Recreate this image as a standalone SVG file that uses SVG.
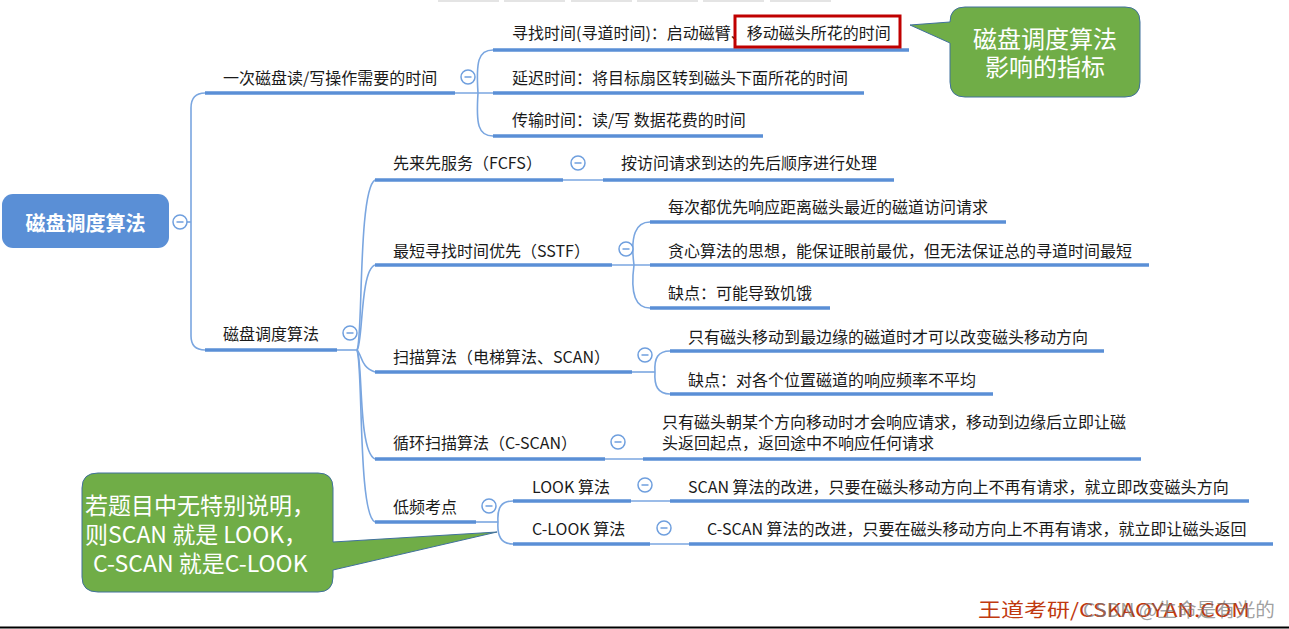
<svg xmlns="http://www.w3.org/2000/svg" width="1289" height="629" viewBox="0 0 1289 629">
<style>
.t{font-family:"Noto Sans CJK SC","Liberation Sans",sans-serif;font-size:16px;fill:#1a1a1a}
.ul{stroke:#5a8fd6;stroke-width:3.5;stroke-linecap:butt;fill:none}
.cn{stroke:#7aa6e0;stroke-width:1.6;fill:none}
.col circle{fill:#fff;stroke:#6f9fde;stroke-width:1.5}
.col line{stroke:#6f9fde;stroke-width:1.5}
.call{fill:#70ad47;stroke:#41719c;stroke-width:1}
.ct{font-family:"Noto Sans CJK SC","Liberation Sans",sans-serif;fill:#fff}
</style>
<defs>
<g id="minus" class="col"><circle cx="0" cy="0" r="7"/><line x1="-3.5" y1="0" x2="3.5" y2="0"/></g>
</defs>
<rect width="1289" height="629" fill="#fff"/>
<g id="toolbar" fill="#e4e4e4">
<rect x="438" y="0" width="61" height="2"/><rect x="504" y="0" width="61" height="2"/><rect x="571" y="0" width="61" height="2"/><rect x="637" y="0" width="61" height="2"/><rect x="703" y="0" width="61" height="2"/><rect x="770" y="0" width="61" height="2"/>
</g>
<g id="connectors">
<path class="cn" d="M186,222 H191"/>
<path class="cn" d="M205,93 Q191,93 191,108 V336 Q191,350 205,350"/>
<path class="cn" d="M455,93 H493"/>
<path class="cn" d="M478,93 C476,62 478,50 493,50"/>
<path class="cn" d="M478,93 C476,124 478,136 493,136"/>
<path class="cn" d="M337,350 H358"/>
<path class="cn" d="M357,350 C363,340 358,190 375,180"/>
<path class="cn" d="M357,350 C363,345 360,270 375,265"/>
<path class="cn" d="M357,350 C362,355 361,368 375,372"/>
<path class="cn" d="M357,350 C363,360 358,452 375,459"/>
<path class="cn" d="M357,350 C363,365 358,515 375,522"/>
<path class="cn" d="M563,180 H603"/>
<path class="cn" d="M612,265 H650"/>
<path class="cn" d="M634,265 C630,235 636,222 650,222"/>
<path class="cn" d="M634,265 C630,295 636,308 650,308"/>
<path class="cn" d="M632,372 H655"/>
<path class="cn" d="M655,372 C654,358 658,351 670,351"/>
<path class="cn" d="M655,372 C654,386 658,394 670,394"/>
<path class="cn" d="M605,459 H643"/>
<path class="cn" d="M476,522 H498"/>
<path class="cn" d="M498,522 C497,508 501,501 513,501"/>
<path class="cn" d="M498,522 C497,536 501,544 513,544"/>
<path class="cn" d="M631,501 H670"/>
<path class="cn" d="M650,544 H689"/>
</g>
<g id="root">
<rect x="2" y="194" width="167" height="54" rx="11" fill="#5a8fd6"/>
<text x="85.5" y="230.5" text-anchor="middle" style="font-family:'Noto Sans CJK SC',sans-serif;font-size:20px;font-weight:bold;fill:#fff">磁盘调度算法</text>
<use href="#minus" x="180" y="222"/>
</g>
<g id="n-time">
<text class="t" x="223" y="84">一次磁盘读/写操作需要的时间</text>
<path class="ul" d="M205,93 H455"/>
<use href="#minus" x="468" y="77"/>
</g>
<g id="n-seek">
<text class="t" x="512" y="39">寻找时间(寻道时间)：启动磁臂、移动磁头所花的时间</text>
<path class="ul" d="M493,50 H909"/>
<rect x="735" y="16" width="165" height="31" fill="none" stroke="#c00000" stroke-width="3"/>
</g>
<g id="n-delay">
<text class="t" x="512" y="84">延迟时间：将目标扇区转到磁头下面所花的时间</text>
<path class="ul" d="M493,93 H864"/>
</g>
<g id="n-trans">
<text class="t" x="512" y="126">传输时间：读/写 数据花费的时间</text>
<path class="ul" d="M493,136 H763"/>
</g>
<g id="callout-top">
<path class="call" d="M965,7 H1125 Q1140,7 1140,22 V82 Q1140,97 1125,97 H965 Q950,97 950,82 V43 L910,25 L950,22 Q950,7 965,7 Z"/>
<text class="ct" x="1045" y="48" text-anchor="middle" font-size="24">磁盘调度算法</text>
<text class="ct" x="1045" y="76" text-anchor="middle" font-size="24">影响的指标</text>
</g>
<g id="n-algo">
<text class="t" x="223" y="340">磁盘调度算法</text>
<path class="ul" d="M205,350 H337"/>
<use href="#minus" x="350" y="333"/>
</g>
<g id="n-fcfs">
<text class="t" x="393" y="169">先来先服务（FCFS）</text>
<path class="ul" d="M375,180 H563"/>
<use href="#minus" x="578" y="163"/>
</g>
<g id="n-fcfs-1">
<text class="t" x="621" y="169">按访问请求到达的先后顺序进行处理</text>
<path class="ul" d="M603,180 H894"/>
</g>
<g id="n-sstf">
<text class="t" x="393" y="257">最短寻找时间优先（SSTF）</text>
<path class="ul" d="M375,265 H612"/>
<use href="#minus" x="626" y="249"/>
</g>
<g id="n-sstf-1">
<text class="t" x="668" y="213">每次都优先响应距离磁头最近的磁道访问请求</text>
<path class="ul" d="M650,222 H1006"/>
</g>
<g id="n-sstf-2">
<text class="t" x="668" y="257">贪心算法的思想，能保证眼前最优，但无法保证总的寻道时间最短</text>
<path class="ul" d="M650,265 H1149"/>
</g>
<g id="n-sstf-3">
<text class="t" x="668" y="299">缺点：可能导致饥饿</text>
<path class="ul" d="M650,308 H830"/>
</g>
<g id="n-scan">
<text class="t" x="393" y="363">扫描算法（电梯算法、SCAN）</text>
<path class="ul" d="M375,372 H632"/>
<use href="#minus" x="645" y="355"/>
</g>
<g id="n-scan-1">
<text class="t" x="688" y="343">只有磁头移动到最边缘的磁道时才可以改变磁头移动方向</text>
<path class="ul" d="M670,351 H1104"/>
</g>
<g id="n-scan-2">
<text class="t" x="688" y="386">缺点：对各个位置磁道的响应频率不平均</text>
<path class="ul" d="M670,394 H993"/>
</g>
<g id="n-cscan">
<text class="t" x="393" y="449">循环扫描算法（C-SCAN）</text>
<path class="ul" d="M375,459 H605"/>
<use href="#minus" x="618" y="442"/>
</g>
<g id="n-cscan-1">
<text class="t" x="662" y="428">只有磁头朝某个方向移动时才会响应请求，移动到边缘后立即让磁</text>
<text class="t" x="662" y="449">头返回起点，返回途中不响应任何请求</text>
<path class="ul" d="M643,459 H1141"/>
</g>
<g id="n-low">
<text class="t" x="393" y="513">低频考点</text>
<path class="ul" d="M375,522 H476"/>
<use href="#minus" x="489" y="506"/>
</g>
<g id="n-look">
<text class="t" x="532" y="493">LOOK 算法</text>
<path class="ul" d="M513,501 H631"/>
<use href="#minus" x="645" y="485"/>
</g>
<g id="n-look-1">
<text class="t" x="688" y="493">SCAN 算法的改进，只要在磁头移动方向上不再有请求，就立即改变磁头方向</text>
<path class="ul" d="M670,501 H1249"/>
</g>
<g id="n-clook">
<text class="t" x="532" y="535">C-LOOK 算法</text>
<path class="ul" d="M513,544 H650"/>
<use href="#minus" x="664" y="528"/>
</g>
<g id="n-clook-1">
<text class="t" x="707" y="535">C-SCAN 算法的改进，只要在磁头移动方向上不再有请求，就立即让磁头返回</text>
<path class="ul" d="M689,544 H1273"/>
</g>
<g id="callout-bottom">
<path class="call" d="M98,473 H318 Q333,473 333,488 V542 L497,532 L333,570 V577 Q333,592 318,592 H98 Q82,592 82,577 V488 Q82,473 98,473 Z"/>
<text class="ct" x="85" y="514" font-size="23">若题目中无特别说明，</text>
<text class="ct" x="85" y="543" font-size="23">则SCAN 就是 LOOK，</text>
<text class="ct" x="93" y="572" font-size="23">C-SCAN 就是C-LOOK</text>
</g>
<g id="watermark">
<text x="978" y="617" textLength="272" lengthAdjust="spacingAndGlyphs" style="font-family:'Noto Sans CJK SC','Liberation Sans',sans-serif;font-size:19px;fill:#c0390f">王道考研/CSKAOYAN.COM</text>
<text x="1083" y="617" textLength="192" lengthAdjust="spacingAndGlyphs" style="font-family:'Noto Sans CJK SC','Liberation Sans',sans-serif;font-size:19px;fill:#777;fill-opacity:0.7">CSDN @生命是有光的</text>
</g>
<line x1="0" y1="627.5" x2="1289" y2="627.5" stroke="#000" stroke-width="2"/>
</svg>
